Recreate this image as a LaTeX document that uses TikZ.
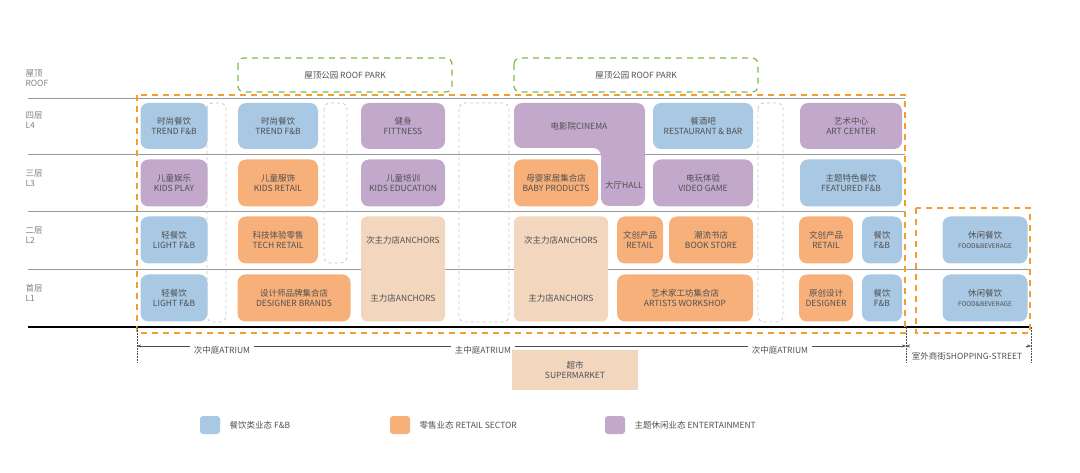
\documentclass[tikz,border=0pt]{standalone}
\usepackage{fontspec}
\setmainfont{Noto Sans CJK SC}
\usetikzlibrary{arrows.meta}
\definecolor{fbblue}{HTML}{A9C8E4}
\definecolor{retorange}{HTML}{F7B07A}
\definecolor{entpurple}{HTML}{C2A9CC}
\definecolor{anchorbeige}{HTML}{F2D6BE}
\definecolor{txtgrey}{HTML}{505050}
\definecolor{parkgreen}{HTML}{7DBB4A}
\definecolor{outlineorange}{HTML}{F0A030}
\begin{document}
\begin{tikzpicture}[x=1pt, y=-1pt,
    font=\fontsize{8.5}{10}\selectfont, text=txtgrey,
    blk/.style={rounded corners=8pt, inner sep=0pt, align=center},
    fb/.style={blk, fill=fbblue},
    retail/.style={blk, fill=retorange},
    ent/.style={blk, fill=entpurple},
    anchorbox/.style={blk, fill=anchorbeige, rounded corners=6pt},
    gap/.style={draw=gray!45, dashed, rounded corners=6pt, line width=0.8pt},
    floorline/.style={draw=gray!80, line width=0.8pt},
    outline/.style={draw=outlineorange, dash pattern=on 6pt off 5pt, line width=2pt},
    park/.style={draw=parkgreen, dash pattern=on 6pt off 5pt, line width=1.2pt, rounded corners=6pt},
    dim/.style={draw=black!70, line width=0.5pt},
    lvl/.style={anchor=west, align=left, text=gray}
]
    \useasboundingbox (0,0) rectangle (1080,473);
    % floors
    \node[lvl] (roof) at (22,78) {屋顶\\ROOF};
    \node[lvl] (l4) at (22,120) {四层\\L4};
    \node[lvl] (l3) at (22,178) {三层\\L3};
    \node[lvl] (l2) at (22,235) {二层\\L2};
    \node[lvl] (l1) at (22,293) {首层\\L1};
    \foreach \yy in {98,154,211} \draw[floorline] (28,\yy) -- (905,\yy);
    \draw[floorline] (28,269) -- (1030,269);
    \draw[line width=1.5pt] (28,327) -- (1030,327);
    % atrium gaps
    \draw[gap] (207,103) rectangle (226,322);
    \draw[gap] (324,103) rectangle (347,263);
    \draw[gap] (459,103) rectangle (509,322);
    \draw[gap] (758,103) rectangle (783,322);
    % roof parks
    \draw[park] (238,58) rectangle (452,92);
    \node (park1) at (345,75) {屋顶公园 ROOF PARK};
    \draw[park] (514,58) rectangle (758,92);
    \node (park2) at (636,75) {屋顶公园 ROOF PARK};
    % column 1
    \node[fb, minimum width=67pt, minimum height=46pt] (trend1) at (174,126) {时尚餐饮\\TREND F\&B};
    \node[ent, minimum width=67pt, minimum height=47pt] (kidsplay) at (174,183) {儿童娱乐\\KIDS PLAY};
    \node[fb, minimum width=67pt, minimum height=47pt] (light2) at (174,240) {轻餐饮\\LIGHT F\&B};
    \node[fb, minimum width=67pt, minimum height=47pt] (light1) at (174,298) {轻餐饮\\LIGHT F\&B};
    % column 2
    \node[fb, minimum width=80pt, minimum height=46pt] (trend2) at (278,126) {时尚餐饮\\TREND F\&B};
    \node[retail, minimum width=80pt, minimum height=47pt] (kidsretail) at (278,183) {儿童服饰\\KIDS RETAIL};
    \node[retail, minimum width=80pt, minimum height=47pt] (tech) at (278,240) {科技体验零售\\TECH RETAIL};
    \node[retail, minimum width=113pt, minimum height=47pt] (designerbr) at (294,298) {设计师品牌集合店\\DESIGNER BRANDS};
    % column 3
    \node[ent, minimum width=84pt, minimum height=46pt] (fitness) at (403,126) {健身\\FITTNESS};
    \node[ent, minimum width=84pt, minimum height=47pt] (kidsedu) at (403,183) {儿童培训\\KIDS EDUCATION};
    \node[anchorbox, minimum width=84pt, minimum height=105pt] (anchorsa) at (403,269) {};
    \node (anch2a) at (403,240) {次主力店\\ANCHORS};
    \node (anch1a) at (403,298) {主力店\\ANCHORS};
    % column 4
    \fill[entpurple, rounded corners=8pt] (514,103) -- (645,103) -- (645,206) -- (601,206) -- (601,148) -- (514,148) -- cycle;
    \node (cinema) at (579,126) {电影院\\CINEMA};
    \node (hall) at (624,185) {大厅\\HALL};
    \node[retail, minimum width=84pt, minimum height=47pt] (baby) at (556,183) {母婴家居集合店\\BABY PRODUCTS};
    \node[fb, minimum width=100pt, minimum height=46pt] (bar) at (703,126) {餐酒吧\\RESTAURANT \& BAR};
    \node[ent, minimum width=100pt, minimum height=47pt] (video) at (703,183) {电玩体验\\VIDEO GAME};
    \node[anchorbox, minimum width=94pt, minimum height=105pt] (anchorsb) at (561,269) {};
    \node (anch2b) at (561,240) {次主力店\\ANCHORS};
    \node (anch1b) at (561,298) {主力店\\ANCHORS};
    \node[retail, minimum width=46pt, minimum height=47pt] (retail4) at (640,240) {文创产品\\RETAIL};
    \node[retail, minimum width=84pt, minimum height=47pt] (book) at (711,240) {潮流书店\\BOOK STORE};
    \node[retail, minimum width=136pt, minimum height=47pt] (artists) at (685,298) {艺术家工坊集合店\\ARTISTS WORKSHOP};
    % column 5
    \node[ent, minimum width=102pt, minimum height=46pt] (art) at (851,126) {艺术中心\\ART CENTER};
    \node[fb, minimum width=102pt, minimum height=47pt] (featured) at (851,183) {主题特色餐饮\\FEATURED F\&B};
    \node[retail, minimum width=54pt, minimum height=47pt] (retail5) at (826,240) {文创产品\\RETAIL};
    \node[fb, minimum width=40pt, minimum height=47pt] (fb2) at (882,240) {餐饮\\F\&B};
    \node[retail, minimum width=54pt, minimum height=47pt] (designer) at (826,298) {原创设计\\DESIGNER};
    \node[fb, minimum width=40pt, minimum height=47pt] (fb1) at (882,298) {餐饮\\F\&B};
    % shopping street
    \node[fb, minimum width=85pt, minimum height=47pt] (casual2) at (985,240) {休闲餐饮\\{\fontsize{6.5}{8}\selectfont FOOD\&BEVERAGE}};
    \node[fb, minimum width=85pt, minimum height=47pt] (casual1) at (985,298) {休闲餐饮\\{\fontsize{6.5}{8}\selectfont FOOD\&BEVERAGE}};
    % outlines
    \draw[outline] (137,95) rectangle (905,333);
    \draw[outline] (916,208) rectangle (1030,333);
    % atrium dimensions
    \node (atr1) at (222,350) {次中庭\\ATRIUM};
    \node (atr2) at (483,350) {主中庭\\ATRIUM};
    \node (atr3) at (780,350) {次中庭\\ATRIUM};
    \node (shop) at (967,356) {室外商街\\SHOPPING-\\STREET};
    \coordinate (tl) at (137,346);
    \coordinate (tm) at (906,346);
    \coordinate (tr) at (1031,346);
    \draw[dim, densely dotted] (137,327) -- (137,362);
    \draw[dim, densely dotted] (906,327) -- (906,362);
    \draw[dim, densely dotted] (1031,327) -- (1031,362);
    \draw[dim, {Stealth[length=4pt]}-] (tl) -- (tl -| atr1.west);
    \draw[dim] (tl -| atr1.east) -- (tl -| atr2.west);
    \draw[dim] (tl -| atr2.east) -- (tl -| atr3.west);
    \draw[dim, -{Stealth[length=4pt]}] (tl -| atr3.east) -- (tm);
    \draw[dim, {Stealth[length=4pt]}-] (tm) -- (tm -| shop.west);
    \draw[dim, -{Stealth[length=4pt]}] (tm -| shop.east) -- (tr);
    \node[blk, fill=anchorbeige, rounded corners=0pt, minimum width=126pt, minimum height=39pt] (market) at (575,370) {超市\\SUPERMARKET};
    % legend
    \node[blk, fill=fbblue, rounded corners=3pt, minimum width=20pt, minimum height=18pt] (keyfb) at (210,425) {};
    \node[anchor=west] (labfb) at (keyfb.east) {\hspace{6pt}餐饮类业态 F\&B};
    \node[blk, fill=retorange, rounded corners=3pt, minimum width=20pt, minimum height=18pt] (keyret) at (400,425) {};
    \node[anchor=west] (labret) at (keyret.east) {\hspace{6pt}零售业态 RETAIL SECTOR};
    \node[blk, fill=entpurple, rounded corners=3pt, minimum width=20pt, minimum height=18pt] (keyent) at (615,425) {};
    \node[anchor=west] (labent) at (keyent.east) {\hspace{6pt}主题休闲业态 ENTERTAINMENT};
\end{tikzpicture}
\end{document}
